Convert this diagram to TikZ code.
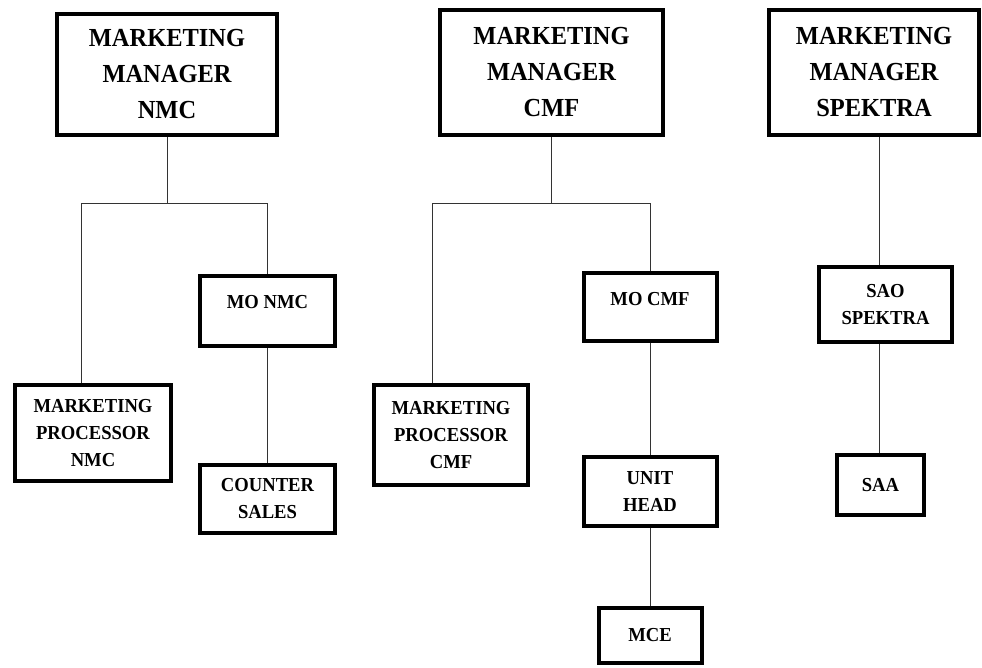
\documentclass[tikz,border=0pt]{standalone}
\usepackage{fontspec}
\setmainfont[FakeStretch=0.94]{Liberation Serif}
\usetikzlibrary{positioning,calc}

\begin{document}
\begin{tikzpicture}[x=1pt,y=-1pt,
		headbox/.style={draw, line width=4pt, fill=white, align=center, inner sep=2pt,
			font=\bfseries\fontsize{26}{36}\selectfont},
		unitbox/.style={draw, line width=4pt, fill=white, align=center, inner sep=2pt,
			font=\bfseries\fontsize{19.8}{27}\selectfont},
		link/.style={black!80, line width=1pt}]
	\useasboundingbox (0,0) rectangle (982,667);

	% Heads
	\node[headbox, minimum width=220, minimum height=121] (mmN) at (167,74.5) {MARKETING\\MANAGER\\NMC};
	\node[headbox, minimum width=223, minimum height=125] (mmC) at (551.5,72.5) {MARKETING\\MANAGER\\CMF};
	\node[headbox, minimum width=210, minimum height=125] (mmS) at (874,72.5) {MARKETING\\MANAGER\\SPEKTRA};

	% NMC units
	\node[unitbox, minimum width=156, minimum height=96] (mpN) at (93,433) {MARKETING\\PROCESSOR\\NMC};
	\node[unitbox, minimum width=135, minimum height=70, text depth=18pt] (moN) at (267.5,311) {MO NMC};
	\node[unitbox, minimum width=135, minimum height=68] (csN) at (267.5,499) {COUNTER\\SALES};

	% CMF units
	\node[unitbox, minimum width=154, minimum height=100] (mpC) at (451,435) {MARKETING\\PROCESSOR\\CMF};
	\node[unitbox, minimum width=133, minimum height=68, text depth=16pt] (moC) at (650,307) {MO CMF};
	\node[unitbox, minimum width=133, minimum height=69] (uhC) at (650,491.5) {UNIT\\HEAD};
	\node[unitbox, minimum width=103, minimum height=55] (mceC) at (650,635.5) {MCE};

	% SPEKTRA units
	\node[unitbox, minimum width=133, minimum height=75] (saoS) at (885.5,304.5) {SAO\\SPEKTRA};
	\node[unitbox, minimum width=87, minimum height=60] (saaS) at (880.5,485) {SAA};

	% Branch points
	\coordinate (brN) at (81,203);
	\coordinate (brC) at (432,203);
	\coordinate (axS) at (879,0);

	% Links NMC
	\draw[link] (mmN.south) -- (mmN.south |- brN);
	\draw[link] (brN |- mpN.north) -- (brN) -| (moN.north);
	\draw[link] (moN.south) -- (csN.north);

	% Links CMF
	\draw[link] (mmC.south) -- (mmC.south |- brC);
	\draw[link] (brC |- mpC.north) -- (brC) -| (moC.north);
	\draw[link] (moC.south) -- (uhC.north);
	\draw[link] (uhC.south) -- (mceC.north);

	% Links SPEKTRA
	\draw[link] (axS |- mmS.south) -- (axS |- saoS.north);
	\draw[link] (axS |- saoS.south) -- (axS |- saaS.north);
\end{tikzpicture}
\end{document}
